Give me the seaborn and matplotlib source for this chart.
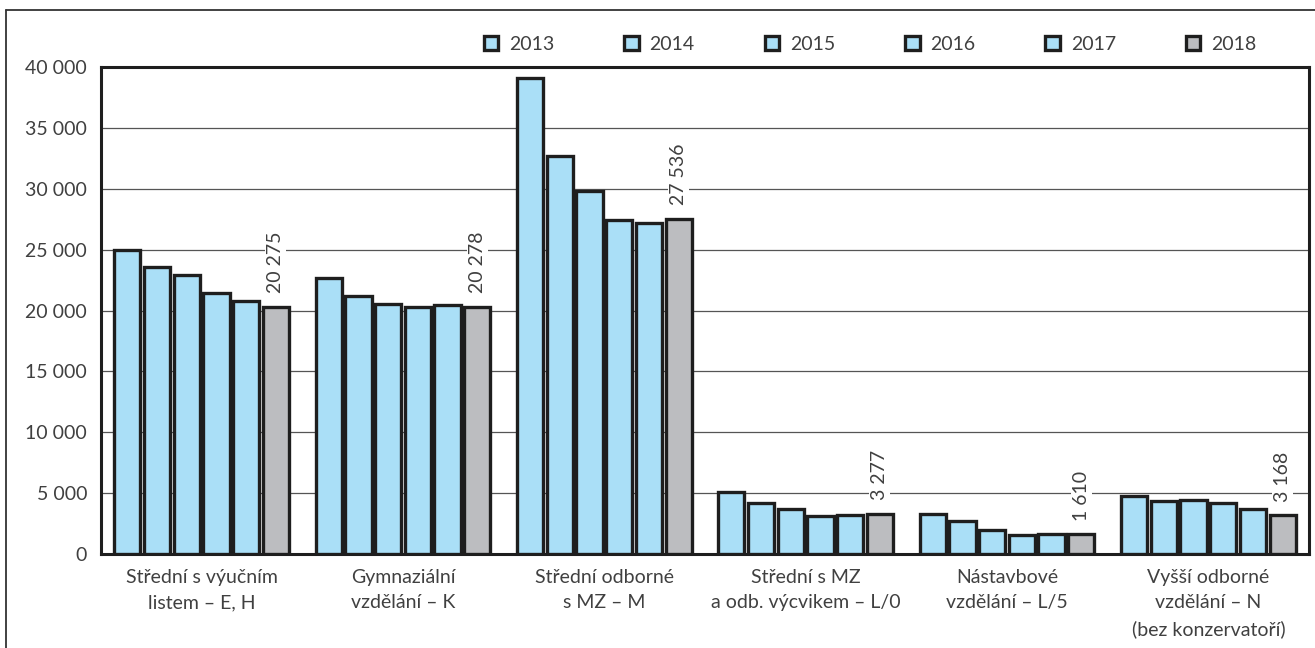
import matplotlib
matplotlib.use("Agg")
import matplotlib.pyplot as plt
from matplotlib.patches import Patch
from matplotlib.lines import Line2D
from matplotlib.ticker import FuncFormatter
import seaborn as sns
import pandas as pd

categories = [
    "Střední s výučním\nlistem – E, H",
    "Gymnaziální\nvzdělání – K",
    "Střední odborné\ns MZ – M",
    "Střední s MZ\na odb. výcvikem – L/0",
    "Nástavbové\nvzdělání – L/5",
    "Vyšší odborné\nvzdělání – N\n(bez konzervatoří)",
]
years = ["2013", "2014", "2015", "2016", "2017", "2018"]
v2013 = [25000, 22700, 39100, 5100, 3250, 4800]
v2014 = [23600, 21200, 32700, 4200, 2700, 4350]
v2015 = [22950, 20550, 29800, 3700, 2000, 4450]
v2016 = [21400, 20250, 27400, 3150, 1550, 4150]
v2017 = [20750, 20450, 27200, 3200, 1650, 3700]
v2018 = [20275, 20278, 27536, 3277, 1610, 3168]
yticks = [0, 5000, 10000, 15000, 20000, 25000, 30000, 35000, 40000]

series = [v2013, v2014, v2015, v2016, v2017, v2018]
rows = []
for y, vals in zip(years, series):
    for c, v in zip(categories, vals):
        rows.append({"cat": c, "year": y, "value": v})
df = pd.DataFrame(rows)

BLUE = "#aadff7"
GRAY = "#bcbdc0"
EDGE = "#1e1e1e"
TXT = "#404040"
palette = {y: (GRAY if y == "2018" else BLUE) for y in years}

sns.set_theme(style="white")
plt.rcParams["font.family"] = ["Lato", "DejaVu Sans"]
plt.rcParams["font.weight"] = "normal"

fig = plt.figure(figsize=(13.15, 6.48), dpi=100)
ax = fig.add_axes([101 / 1315, 1 - 554 / 648, (1309 - 101) / 1315, (554 - 67) / 648])

sns.barplot(data=df, x="cat", y="value", hue="year", palette=palette,
            width=0.885, gap=0.12, edgecolor=EDGE, linewidth=2.4,
            saturation=1, ax=ax, legend=False, zorder=3)

ax.set_ylim(0, 40000)
ax.set_xlim(-0.5, 5.5)
ax.set_yticks(yticks)
ax.yaxis.set_major_formatter(FuncFormatter(lambda v, p: f"{int(v):,}".replace(",", " ")))
ax.grid(axis="y", color="#555555", linewidth=0.9, zorder=0)
ax.set_axisbelow(True)
ax.set_xlabel("")
ax.set_ylabel("")
for s in ax.spines.values():
    s.set_color(EDGE)
    s.set_linewidth(2.2)
    s.set_visible(True)
ax.tick_params(axis="both", length=0, colors=TXT, labelsize=14)
ax.tick_params(axis="y", pad=10)
ax.tick_params(axis="x", pad=10.5)
for lbl in ax.get_xticklabels():
    lbl.set_linespacing(1.6)
    lbl.set_color(TXT)

# value labels above 2018 bars
for bar, v in zip(ax.containers[-1], v2018):
    ax.annotate(f"{v:,}".replace(",", " "),
                xy=(bar.get_x() + bar.get_width() / 2, bar.get_height()),
                xytext=(0, 10), textcoords="offset points",
                rotation=90, ha="center", va="bottom", fontsize=14, color=TXT,
                bbox=dict(boxstyle="square,pad=0.1", fc="white", ec="none"),
                zorder=5)

handles = [Patch(facecolor=palette[y], edgecolor=EDGE, linewidth=2.4) for y in years]
fig.legend(handles, years, loc="center", bbox_to_anchor=(870 / 1315, 1 - 44 / 648),
           ncol=6, frameon=False, handlelength=0.75, handleheight=0.75,
           handletextpad=0.55, columnspacing=3.6, fontsize=14, labelcolor=TXT)

fig.add_artist(Line2D([6 / 1315, 6 / 1315], [0, 1 - 10 / 648], transform=fig.transFigure,
                      color="#333333", linewidth=1.3))
fig.add_artist(Line2D([6 / 1315, 1], [1 - 10 / 648, 1 - 10 / 648], transform=fig.transFigure,
                      color="#333333", linewidth=1.3))

fig.savefig("out.png", dpi=100)
